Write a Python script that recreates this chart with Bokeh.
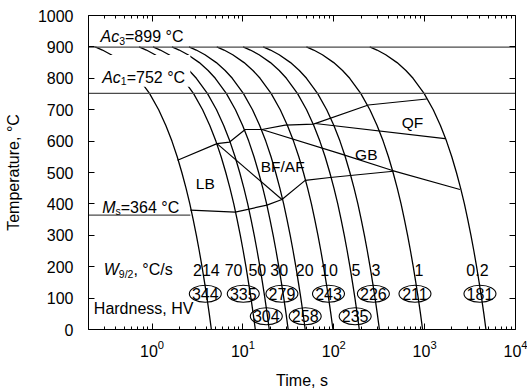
from bokeh.plotting import figure
from bokeh.models import (Range1d, LogAxis, LinearAxis, FixedTicker, CustomJSTickFormatter,
                          Label, BoxAnnotation, ColumnDataSource)
from bokeh.core.properties import value
from bokeh.embed import file_html
from bokeh.resources import INLINE

FONT = "Liberation Sans"

# ---------------- data ----------------
rate_labels = ["214", "70", "50", "30", "20", "10", "5", "3", "1", "0.2"]      # W9/2, °C/s
end_times = [4.5, 13.7, 19.5, 31.5, 48.5, 98, 191, 318, 950, 4730]             # s, curve reaches 0 °C
hardness = ["344", "335", "304", "279", "258", "243", "235", "226", "211", "181"]

# common cooling-curve profile: temperature vs log10(t / t_end)
profile_T = [900, 890, 875, 850, 825, 800, 752, 700, 650, 600, 550, 500, 450, 400,
             350, 300, 250, 200, 150, 100, 50, 0]
profile_dlog = [-1.279, -1.199, -1.103, -0.978, -0.881, -0.802, -0.681, -0.580, -0.501,
                -0.434, -0.376, -0.325, -0.279, -0.237, -0.200, -0.165, -0.133, -0.103,
                -0.075, -0.048, -0.023, 0.0]

# critical temperatures
Ac3, Ac1, Ms = 899, 752, 364
Ms_end_t = 2.64

# transformation lines (time s, temperature °C)
start_t = [1.91, 5.19, 7.14, 10.6, 16.2, 29.2, 59.8, 240, 1054]
start_T = [539, 592, 597, 637, 637, 651, 654, 715, 734]
lbbf_t = [5.19, 26.9]
lbbf_T = [592, 414]
gb_t = [16.2, 117, 434, 2449]
gb_T = [637, 560, 507, 446]
finish_t = [2.64, 8.24, 18.4, 26.9, 48.5, 91.2, 453]
finish_T = [380, 374, 396, 414, 475, 484, 504]
qf_t = [62.4, 1675]
qf_T = [656, 608]

# label placement (layout)
rate_label_t = [3.96, 7.9, 14.4, 25.1, 47.9, 88.9, 176, 292, 867, 3811]
rate_label_T = [188] * 10
hard_label_t = [3.86, 10.1, 18.1, 26.9, 48.5, 87.5, 172, 273, 783, 4064]
hard_label_T = [114, 114, 42, 114, 42, 114, 42, 114, 114, 114]
phase_names = ["LB", "BF/AF", "GB", "QF"]
phase_t = [3.86, 27.4, 228, 736]
phase_T = [465, 518, 558, 658]

y_ticks = [0, 100, 200, 300, 400, 500, 600, 700, 800, 900, 1000]
x_ticks = [1, 10, 100, 1000, 10000]

# ---------------- figure ----------------
p = figure(width=527, height=392, x_axis_type="log",
           x_range=Range1d(0.2, 1e4), y_range=Range1d(0, 1000),
           output_backend="svg", toolbar_location=None,
           min_border_left=88, min_border_right=12, min_border_top=15, min_border_bottom=63)
p.grid.visible = False
p.outline_line_color = None
p.background_fill_color = "white"
p.border_fill_color = "white"

minor_x = [m * 10.0 ** e for e in range(-1, 4) for m in range(2, 10) if m * 10.0 ** e >= 0.2]


def style(ax):
    ax.axis_line_color = "black"
    ax.axis_line_width = 1
    ax.major_tick_in = 6
    ax.major_tick_out = 0
    ax.minor_tick_in = 3
    ax.minor_tick_out = 0
    ax.major_tick_line_color = "black"
    ax.minor_tick_line_color = "black"
    ax.major_label_text_font = FONT
    ax.major_label_text_font_size = "16px"
    ax.major_label_text_color = "black"
    ax.axis_label_text_font = FONT
    ax.axis_label_text_font_size = "16px"
    ax.axis_label_text_font_style = "normal"
    ax.axis_label_text_color = "black"


xa = p.xaxis[0]
style(xa)
xa.ticker = FixedTicker(ticks=x_ticks, minor_ticks=minor_x)
xa.axis_label = "Time, s"
xa.major_label_standoff = 10
xa.axis_label_standoff = 12

ya = p.yaxis[0]
style(ya)
ya.ticker = FixedTicker(ticks=y_ticks, minor_ticks=[])
ya.axis_label = "Temperature, °C"
ya.major_label_standoff = 15
ya.axis_label_standoff = 13

blank = CustomJSTickFormatter(code="return ''")
top = LogAxis(ticker=FixedTicker(ticks=x_ticks, minor_ticks=minor_x), formatter=blank,
              major_label_standoff=0)
style(top)
p.add_layout(top, "above")
right = LinearAxis(ticker=FixedTicker(ticks=y_ticks, minor_ticks=[]), formatter=blank,
                   major_label_standoff=0)
style(right)
p.add_layout(right, "right")

# ---------------- cooling curves ----------------
xs = [[te * 10 ** d for d in profile_dlog] for te in end_times]
ys = [list(profile_T) for _ in end_times]
p.multi_line(xs=xs, ys=ys, line_color="black", line_width=1.3)

# critical temperature lines
GRAY = "#4a4a4a"
p.line(x=[0.2, 1e4], y=[Ac3, Ac3], line_color=GRAY, line_width=1.3)
p.line(x=[0.2, 1e4], y=[Ac1, Ac1], line_color=GRAY, line_width=1.3)
p.line(x=[0.2, Ms_end_t], y=[Ms, Ms], line_color=GRAY, line_width=1.3)

# transformation boundaries
for tx, ty in [(start_t, start_T), (lbbf_t, lbbf_T), (gb_t, gb_T), (finish_t, finish_T), (qf_t, qf_T)]:
    p.line(x=tx, y=ty, line_color="black", line_width=1.2)

# white mask behind the Ac1 label
p.add_layout(BoxAnnotation(left=0.235, right=2.64, bottom=773, top=874,
                           fill_color="white", fill_alpha=1.0, line_color=None))

# hardness ellipses and values
hsrc = ColumnDataSource(dict(t=hard_label_t, T=hard_label_T, txt=hardness))
p.ellipse(x="t", y="T", width=32, height=17, width_units="screen", height_units="screen",
          fill_color=None, line_color="black", line_width=1.1, source=hsrc)
p.text(x="t", y="T", text="txt", source=hsrc, text_font=value(FONT), text_font_size="16px",
       text_align="center", text_baseline="middle", text_color="black")

# cooling-rate values
rsrc = ColumnDataSource(dict(t=rate_label_t, T=rate_label_T, txt=rate_labels))
p.text(x="t", y="T", text="txt", source=rsrc, text_font=value(FONT), text_font_size="16px",
       text_align="center", text_baseline="alphabetic", text_color="black")

# phase region names
psrc = ColumnDataSource(dict(t=phase_t, T=phase_T, txt=phase_names))
p.text(x="t", y="T", text="txt", source=psrc, text_font=value(FONT), text_font_size="15.5px",
       text_align="center", text_baseline="alphabetic", text_color="black")

# ---------------- composite labels ----------------
WID = {'A': 667, 'c': 500, '=': 584, ' ': 278, '°': 400, 'C': 722, 'M': 833, 's': 500,
       'W': 944, ',': 278, '/': 278, 'H': 722, 'V': 667}


def tw(s, size):
    return sum(WID.get(ch, 556) for ch in s) * size / 1000.0


def rich(x, y, parts):
    off = 0.0
    for text, size, style_, dy in parts:
        p.add_layout(Label(x=x, y=y, x_offset=off, y_offset=dy, text=text,
                           text_font=FONT, text_font_size=f"{size}px", text_font_style=style_,
                           text_baseline="alphabetic", text_align="left", text_color="black"))
        off += tw(text, size)


rich(0.271, 932, [("Ac", 16, "italic", 0), ("3", 10.5, "normal", -4), ("=899 °C", 16, "normal", 0)])
rich(0.283, 803, [("Ac", 16, "italic", 0), ("1", 10.5, "normal", -4), ("=752 °C", 16, "normal", 0)])
rich(0.283, 390, [("M", 16, "italic", 0), ("s", 10.5, "normal", -4), ("=364 °C", 16, "normal", 0)])
rich(0.294, 190, [("W", 16, "italic", 0), ("9/2", 10.5, "normal", -4), (", °C/s", 16, "normal", 0)])
rich(0.229, 66, [("Hardness, HV", 16, "normal", 0)])

open("out.html", "w").write(file_html(p, INLINE))
